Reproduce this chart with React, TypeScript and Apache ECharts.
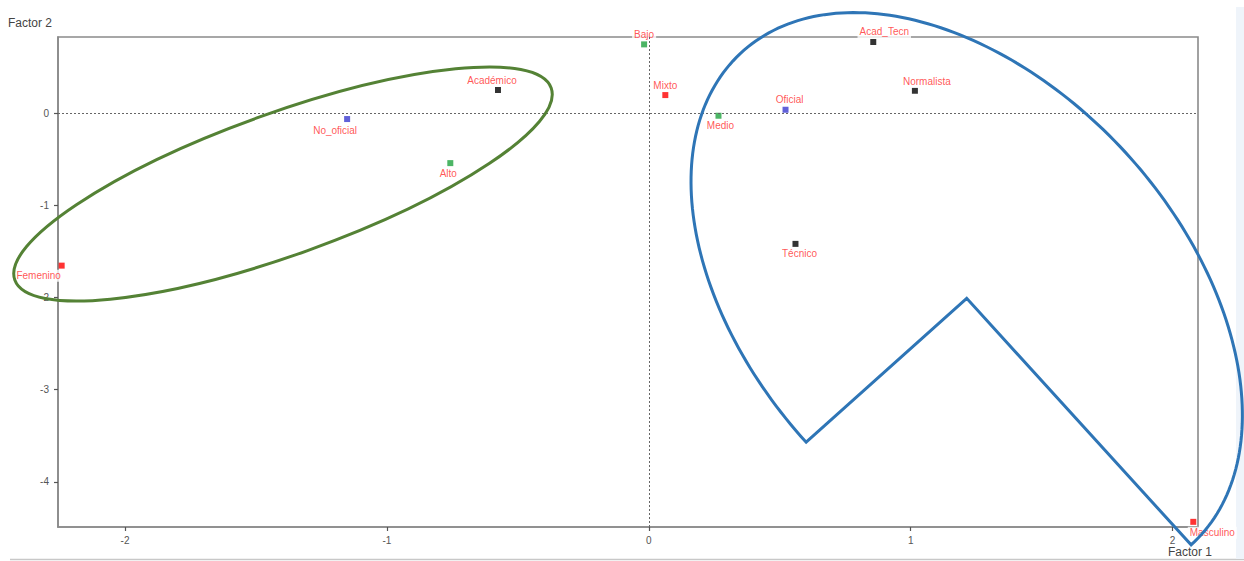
import React, { useEffect, useRef } from "react";
import * as echarts from "echarts";

// Correspondence analysis: category coordinates on the first two factors
const categories = [
  "Femenino", "Masculino", "Mixto",
  "Alto", "Medio", "Bajo",
  "No_oficial", "Oficial",
  "Académico", "Técnico", "Acad_Tecn", "Normalista",
];
const factor1 = [-2.242, 2.079, 0.063, -0.758, 0.266, -0.018, -1.152, 0.522, -0.576, 0.56, 0.857, 1.016];
const factor2 = [-1.655, -4.434, 0.195, -0.543, -0.029, 0.745, -0.065, 0.036, 0.25, -1.419, 0.771, 0.242];
const groups = ["sexo", "sexo", "sexo", "nivel", "nivel", "nivel", "caracter", "caracter", "modalidad", "modalidad", "modalidad", "modalidad"];

const xTicks = [-2, -1, 0, 1, 2];
const yTicks = [-4, -3, -2, -1, 0];

// marker colour for each variable
const groupColor: Record<string, string> = {
  sexo: "#ff0000",
  nivel: "#1fa33f",
  caracter: "#3a3ad0",
  modalidad: "#000000",
};

// label placement (pixels, relative to the marker)
const labelOffsets: Record<string, [number, number]> = {
  Femenino: [-23, 10],
  Masculino: [19, 11],
  Mixto: [0, -10],
  Alto: [-2, 10],
  Medio: [2, 10],
  Bajo: [0, -10],
  No_oficial: [-12, 11],
  Oficial: [4, -10],
  Académico: [-6, -10],
  Técnico: [4, 10],
  Acad_Tecn: [11, -10],
  Normalista: [12, -9],
};

// points along an elliptical arc (screen pixels, angles in degrees)
function ellipseArc(
  cx: number, cy: number, a: number, b: number, rotDeg: number,
  fromDeg: number, toDeg: number, steps: number
): number[][] {
  const r = (rotDeg * Math.PI) / 180;
  const c = Math.cos(r);
  const s = Math.sin(r);
  const pts: number[][] = [];
  for (let i = 0; i <= steps; i++) {
    const t = ((fromDeg + ((toDeg - fromDeg) * i) / steps) * Math.PI) / 180;
    const u = a * Math.cos(t);
    const v = b * Math.sin(t);
    pts.push([cx + u * c - v * s, cy + u * s + v * c]);
  }
  return pts;
}

// outline around the right-hand cluster: a pie-shaped ellipse, the wedge
// removed with its apex at the ellipse centre
const pieCentre = [966.7, 298.3];
const clusterOutline = [
  pieCentre,
  ...ellipseArc(pieCentre[0], pieCentre[1], 333.4, 215.6, 47.5, 90.4, 360.3, 200),
];

export default function App() {
  const ref = useRef<HTMLDivElement>(null);

  useEffect(() => {
    if (!ref.current) return;
    const chart = echarts.init(ref.current, null, { renderer: "svg" });
    const font = "'Liberation Sans', Arial, sans-serif";

    const points = categories.map((name, i) => ({
      name,
      value: [factor1[i], factor2[i]],
      itemStyle: { color: groupColor[groups[i]] },
      label: { offset: labelOffsets[name] || [0, -10] },
    }));

    chart.setOption({
      animation: false,
      backgroundColor: "#ffffff",
      grid: {
        left: 58,
        top: 37,
        right: 46,
        bottom: 34,
        show: true,
        borderColor: "#8a8a8a",
        borderWidth: 1.6,
        backgroundColor: "transparent",
        z: 0,
      },
      xAxis: {
        type: "value",
        min: -2.256,
        max: 2.097,
        axisLine: { show: true, onZero: false, lineStyle: { color: "#8a8a8a", width: 1.6 } },
        axisTick: { show: true, length: 4, customValues: xTicks, lineStyle: { color: "#555", width: 1.2 } },
        axisLabel: {
          customValues: xTicks,
          margin: 8,
          color: "#555",
          fontSize: 10,
          fontFamily: font,
        },
        splitLine: { show: false },
      },
      yAxis: {
        type: "value",
        min: -4.49,
        max: 0.825,
        axisLine: { show: true, onZero: false, lineStyle: { color: "#8a8a8a", width: 1.6 } },
        axisTick: { show: true, length: 4, customValues: yTicks, lineStyle: { color: "#555", width: 1.2 } },
        axisLabel: {
          customValues: yTicks,
          margin: 9,
          color: "#555",
          fontSize: 10,
          fontFamily: font,
        },
        splitLine: { show: false },
      },
      series: [
        {
          type: "scatter",
          symbol: "rect",
          symbolSize: 6,
          data: points,
          label: {
            show: true,
            position: "inside",
            formatter: "{b}",
            color: "#ff2b2b",
            fontSize: 10,
            fontFamily: font,
            backgroundColor: "#ffffff",
            padding: [1, 2],
          },
          markLine: {
            silent: true,
            symbol: "none",
            label: { show: false },
            lineStyle: { color: "#666", type: [2, 2], width: 1 },
            data: [{ xAxis: 0 }, { yAxis: 0 }],
          },
          z: 3,
        },
      ],
      graphic: [
        {
          type: "text",
          left: 8,
          top: 17,
          style: { text: "Factor 2", fill: "#444", fontSize: 12, fontFamily: font },
        },
        {
          type: "text",
          left: 1168,
          top: 546,
          style: { text: "Factor 1", fill: "#444", fontSize: 12, fontFamily: font },
        },
        {
          type: "line",
          shape: { x1: 10, y1: 559.5, x2: 1244, y2: 559.5 },
          style: { stroke: "#c8c8c8", lineWidth: 1.5 },
          z: 1,
        },
        {
          type: "rect",
          shape: { x: 1236, y: 7, width: 8, height: 552 },
          style: { fill: "#eff4fa" },
          z: 1,
        },
        {
          type: "ellipse",
          x: 283,
          y: 184,
          rotation: 0.344,
          shape: { cx: 0, cy: 0, rx: 285, ry: 71 },
          style: { fill: "none", stroke: "#548235", lineWidth: 3 },
          z: 10,
        },
        {
          type: "polygon",
          shape: { points: clusterOutline },
          style: { fill: "none", stroke: "#2e75b6", lineWidth: 3, lineJoin: "miter" },
          z: 10,
        },
      ],
    });

    return () => chart.dispose();
  }, []);

  return (
    <div
      ref={ref}
      style={{ position: "absolute", left: 0, top: 0, width: 1244, height: 561 }}
    />
  );
}
